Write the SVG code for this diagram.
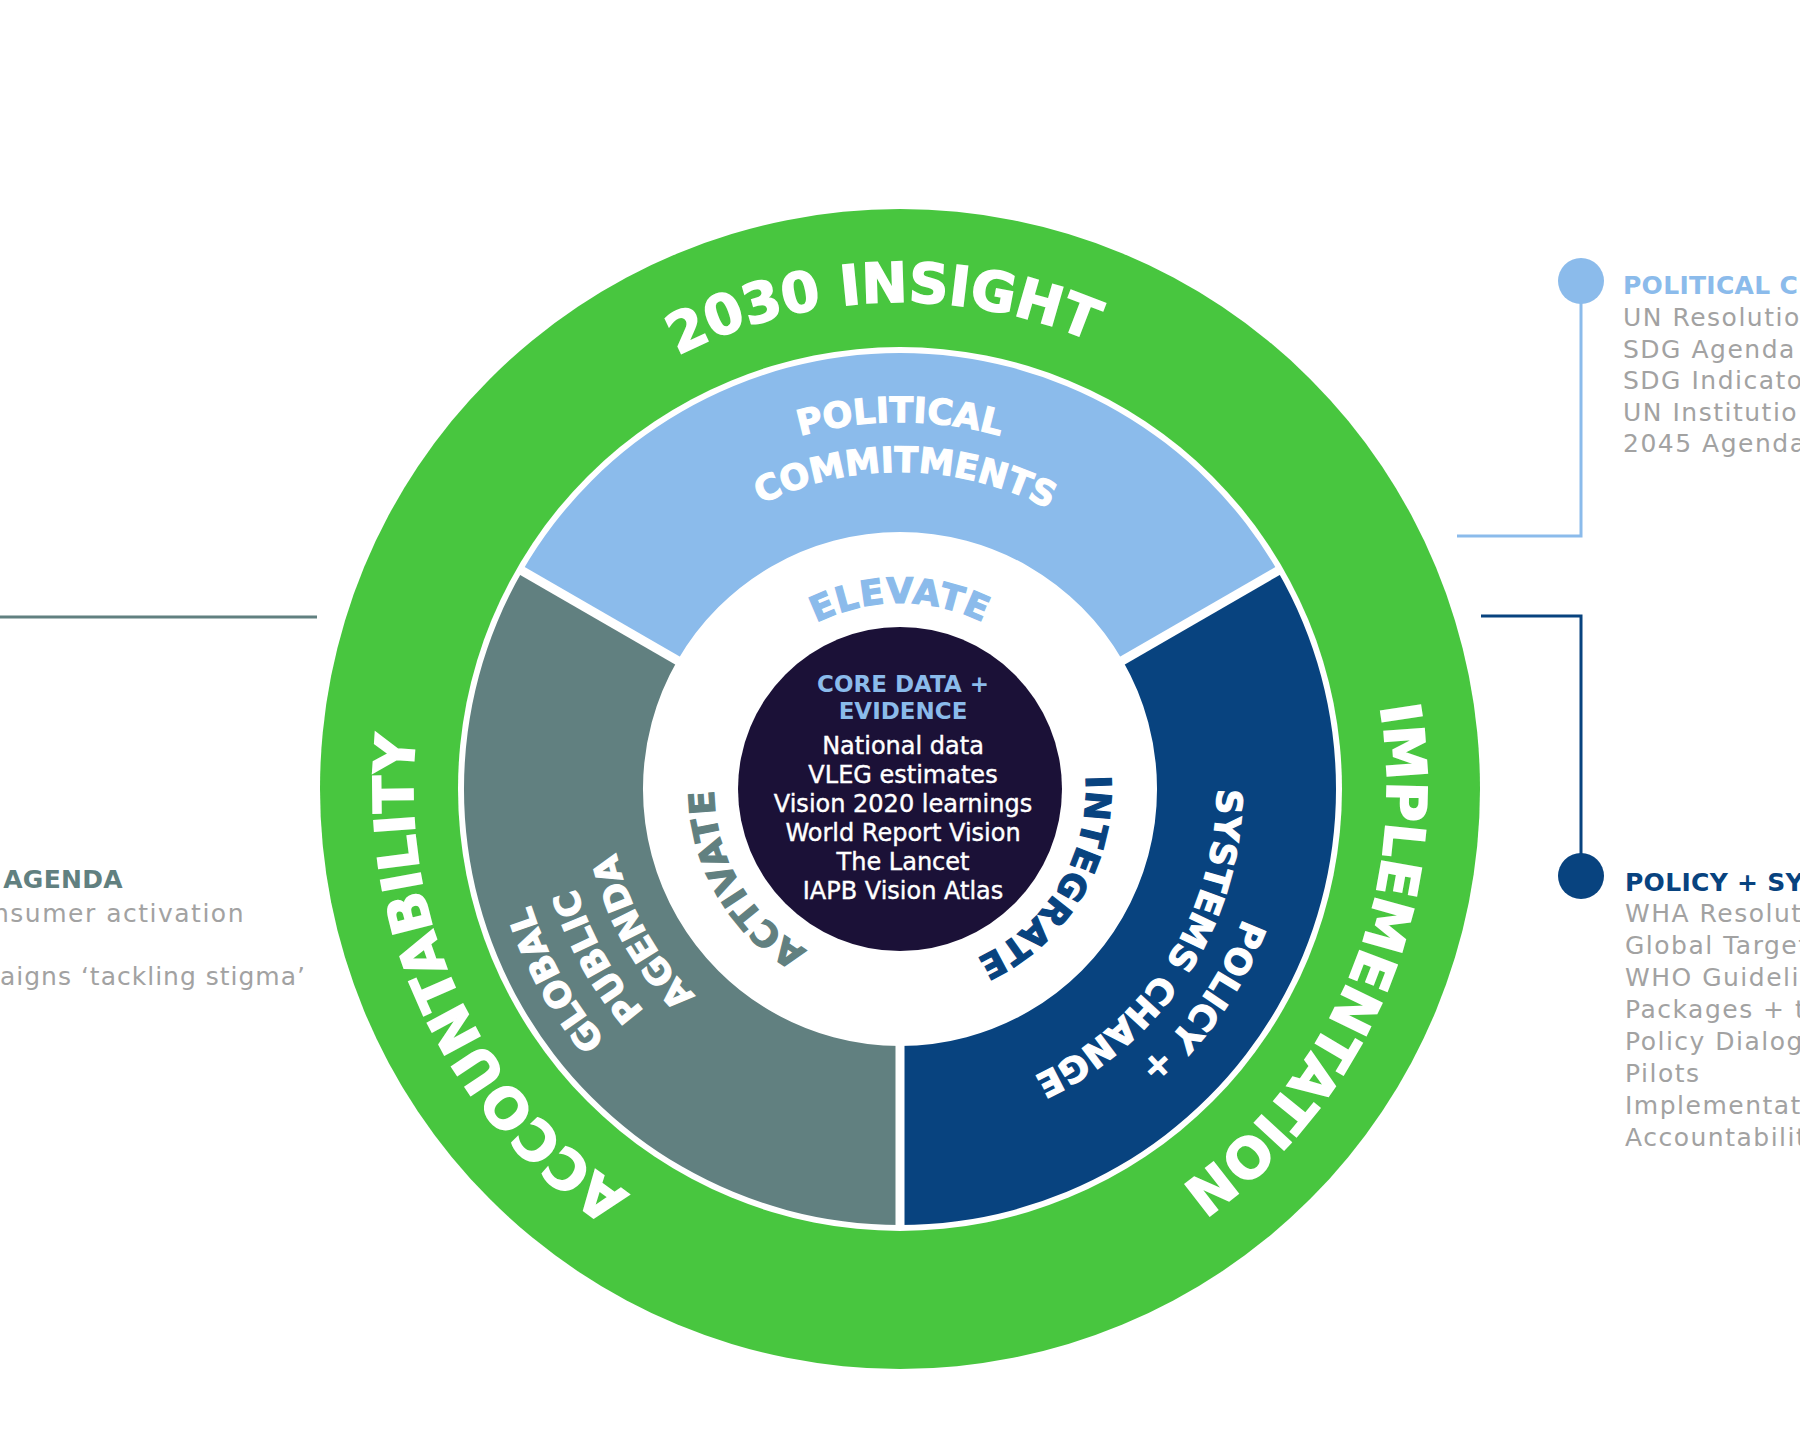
<svg xmlns="http://www.w3.org/2000/svg" width="1800" height="1440" viewBox="0 0 1800 1440">
<style>
.arc{font-family:"DejaVu Sans","Liberation Sans",sans-serif;font-weight:bold;fill:#ffffff;stroke:#ffffff;stroke-width:1.2px;text-anchor:middle}
.band{font-size:55px;stroke-width:1.6px}
.seg{font-size:35px}
.ring{font-size:35px;letter-spacing:1px}
.core-h{font-family:"DejaVu Sans","Liberation Sans",sans-serif;font-weight:bold;font-size:23px;fill:#8BBBEB;text-anchor:middle}
.core-l{font-family:"DejaVu Sans","Liberation Sans",sans-serif;font-size:24px;fill:#ffffff;stroke:#ffffff;stroke-width:0.4px;text-anchor:middle}
.list{font-family:"DejaVu Sans","Liberation Sans",sans-serif;font-size:25px;fill:#a2a2a2;letter-spacing:1.5px}
.ttl{font-family:"DejaVu Sans","Liberation Sans",sans-serif;font-size:25px;font-weight:bold;letter-spacing:0.3px}
.conn{fill:none;stroke-width:3}
</style>
<defs>
<path id="r487" d="M 413 789 A 487 487 0 0 1 1387 789"/>
<path id="r387" d="M 513 789 A 387 387 0 0 1 1287 789"/>
<path id="r367" d="M 533 789 A 367 367 0 0 1 1267 789"/>
<path id="r339" d="M 561 789 A 339 339 0 0 1 1239 789"/>
<path id="r317" d="M 583 789 A 317 317 0 0 1 1217 789"/>
<path id="r291" d="M 609 789 A 291 291 0 0 1 1191 789"/>
<path id="r186" d="M 714 789 A 186 186 0 0 1 1086 789"/>
</defs>
<rect width="1800" height="1440" fill="#ffffff"/>

<g id="outer-ring">
<circle cx="900" cy="789" r="580" fill="#48C63F"/>
<circle cx="900" cy="789" r="442" fill="#ffffff"/>
<text class="arc band" transform="rotate(-2 900 789)"><textPath href="#r487" startOffset="50%">2030 INSIGHT</textPath></text>
<text class="arc band" transform="rotate(112.5 900 789)"><textPath href="#r487" startOffset="50%">IMPLEMENTATION</textPath></text>
<text class="arc band" transform="rotate(245 900 789)"><textPath href="#r487" startOffset="50%">ACCOUNTABILITY</textPath></text>
</g>

<g id="seg-political">
<path d="M 522.4 571 A 436 436 0 0 1 1277.6 571 L 1122.6 660.5 A 257 257 0 0 0 677.4 660.5 Z" fill="#8BBBEB"/>
<text class="arc seg"><textPath href="#r367" startOffset="50%">POLITICAL</textPath></text>
<text class="arc seg" transform="rotate(1 900 789)"><textPath href="#r317" startOffset="50%">COMMITMENTS</textPath></text>
</g>

<g id="seg-policy">
<path d="M 1277.6 571 A 436 436 0 0 1 900 1225 L 900 1046 A 257 257 0 0 0 1122.6 660.5 Z" fill="#08437F"/>
<text class="arc seg" transform="rotate(125 900 789)"><textPath href="#r367" startOffset="50%">POLICY +</textPath></text>
<text class="arc seg" transform="rotate(122.5 900 789)"><textPath href="#r317" startOffset="50%">SYSTEMS CHANGE</textPath></text>
</g>

<g id="seg-public">
<path d="M 900 1225 A 436 436 0 0 1 522.4 571 L 677.4 660.5 A 257 257 0 0 0 900 1046 Z" fill="#618080"/>
<text class="arc seg" transform="rotate(241 900 789)"><textPath href="#r387" startOffset="50%">GLOBAL</textPath></text>
<text class="arc seg" transform="rotate(241 900 789)"><textPath href="#r339" startOffset="50%">PUBLIC</textPath></text>
<text class="arc seg" transform="rotate(241 900 789)"><textPath href="#r291" startOffset="50%">AGENDA</textPath></text>
</g>

<g id="separators" stroke="#ffffff" stroke-width="9">
<line x1="683.5" y1="664" x2="518.1" y2="568.5"/>
<line x1="1116.5" y1="664" x2="1281.9" y2="568.5"/>
<line x1="900" y1="1039" x2="900" y2="1230"/>
</g>

<g id="inner-ring">
<text class="arc ring" style="fill:#8BBBEB;stroke:#8BBBEB"><textPath href="#r186" startOffset="50%">ELEVATE</textPath></text>
<text class="arc ring" style="fill:#08437F;stroke:#08437F" transform="rotate(121 900 789)"><textPath href="#r186" startOffset="50%">INTEGRATE</textPath></text>
<text class="arc ring" style="fill:#618080;stroke:#618080" transform="rotate(240 900 789)"><textPath href="#r186" startOffset="50%">ACTIVATE</textPath></text>
</g>

<g id="core">
<circle cx="900" cy="789" r="162" fill="#1B1137"/>
<text class="core-h" x="903" y="692">CORE DATA +</text>
<text class="core-h" x="903" y="719">EVIDENCE</text>
<text class="core-l" x="903" y="754">National data</text>
<text class="core-l" x="903" y="783">VLEG estimates</text>
<text class="core-l" x="903" y="812">Vision 2020 learnings</text>
<text class="core-l" x="903" y="841">World Report Vision</text>
<text class="core-l" x="903" y="870">The Lancet</text>
<text class="core-l" x="903" y="899">IAPB Vision Atlas</text>
</g>

<g id="connectors">
<polyline class="conn" stroke="#8BBBEB" points="1457,536 1581,536 1581,281"/>
<polyline class="conn" stroke="#08437F" points="1481,616 1581,616 1581,876"/>
<line class="conn" stroke="#618080" x1="0" y1="617" x2="317" y2="617"/>
</g>

<g id="note-political">
<circle cx="1581" cy="281" r="23" fill="#8BBBEB"/>
<text class="ttl" x="1623" y="294" fill="#8BBBEB">POLITICAL C</text>
<text class="list" x="1623" y="326">UN Resolutio</text>
<text class="list" x="1623" y="357.5">SDG Agenda</text>
<text class="list" x="1623" y="389">SDG Indicato</text>
<text class="list" x="1623" y="420.5">UN Institutio</text>
<text class="list" x="1623" y="452">2045 Agenda</text>
</g>

<g id="note-policy">
<circle cx="1581" cy="876" r="23" fill="#08437F"/>
<text class="ttl" x="1625" y="891" fill="#08437F">POLICY + SYS</text>
<text class="list" x="1625" y="922">WHA Resolut</text>
<text class="list" x="1625" y="954">Global Target</text>
<text class="list" x="1625" y="986">WHO Guideli</text>
<text class="list" x="1625" y="1018">Packages + t</text>
<text class="list" x="1625" y="1050">Policy Dialog</text>
<text class="list" x="1625" y="1082">Pilots</text>
<text class="list" x="1625" y="1114">Implementat</text>
<text class="list" x="1625" y="1146">Accountabilit</text>
</g>

<g id="note-public">
<text class="ttl" x="123" y="888" fill="#618080" text-anchor="end">AGENDA</text>
<text class="list" x="245" y="922" text-anchor="end">nsumer activation</text>
<text class="list" x="306" y="985" text-anchor="end" style="letter-spacing:1px">aigns ‘tackling stigma’</text>
</g>
</svg>
